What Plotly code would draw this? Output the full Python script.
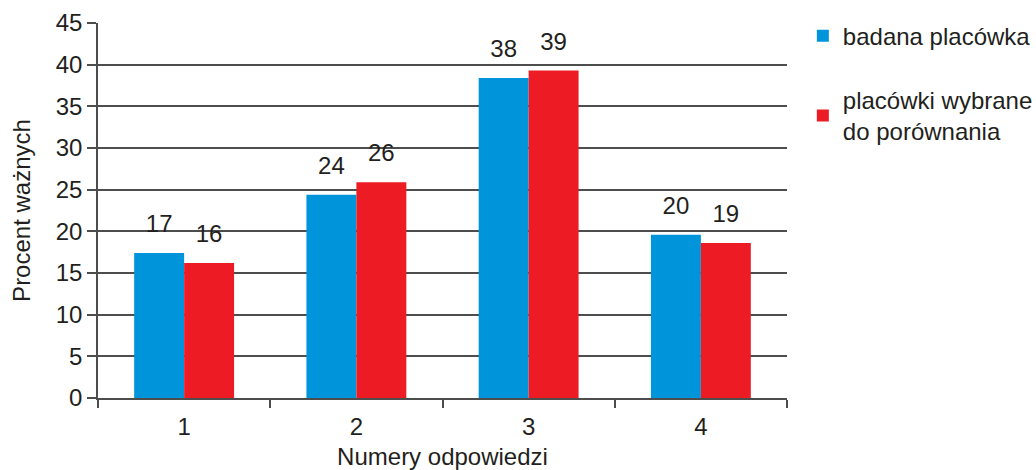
import plotly.graph_objects as go

# Response numbers and the share of valid answers (%) for each group
categories = ["1", "2", "3", "4"]
badana = [17.4, 24.4, 38.4, 19.6]
porownanie = [16.2, 25.9, 39.3, 18.6]
series_names = ["badana placówka", "placówki wybrane<br>do porównania"]
series_colors = ["#0095DA", "#ED1C24"]
y_ticks = [0, 5, 10, 15, 20, 25, 30, 35, 40, 45]

FONT = "Liberation Sans, Arial, sans-serif"
TEXT = "#231F20"
GRID = "#4d4d4d"
SIZE = 24

fig = go.Figure()
for i, (name, vals, color) in enumerate(zip(series_names, [badana, porownanie], series_colors)):
    fig.add_trace(go.Bar(
        x=categories, y=vals, name=name,
        marker=dict(color=color, line=dict(width=0)),
        offsetgroup=str(i), legendgroup=str(i),
    ))
    # value labels, grouped alongside the bars and lifted by an invisible marker
    fig.add_trace(go.Scatter(
        x=categories, y=vals, mode="text+markers",
        marker=dict(size=22, opacity=0),
        text=[f"{v:.0f}" for v in vals], textposition="top center",
        textfont=dict(size=SIZE, color=TEXT, family=FONT),
        offsetgroup=str(i), legendgroup=str(i),
        showlegend=False, hoverinfo="skip", cliponaxis=False,
    ))

fig.update_layout(
    width=1036, height=470,
    margin=dict(l=98, r=249, t=23, b=72, autoexpand=False),
    paper_bgcolor="white", plot_bgcolor="white",
    font=dict(family=FONT, size=SIZE, color=TEXT),
    barmode="group", bargap=0.42, bargroupgap=0,
    scattermode="group", scattergap=0.42,
    showlegend=True,
    legend=dict(
        x=1.023, y=1.025, xanchor="left", yanchor="top",
        font=dict(size=SIZE, color=TEXT, family=FONT),
        traceorder="grouped", tracegroupgap=30,
        bgcolor="rgba(0,0,0,0)", itemwidth=30,
    ),
)

fig.update_xaxes(
    type="category",
    title=dict(text="Numery odpowiedzi", standoff=14, font=dict(size=SIZE)),
    showline=True, linecolor=GRID, linewidth=1.5,
    ticks="outside", tickson="boundaries", ticklen=8, tickcolor=GRID, tickwidth=1.5,
    tickfont=dict(size=SIZE), ticklabelstandoff=6, showgrid=False,
)
fig.update_yaxes(
    range=[0, 45], tickvals=y_ticks,
    title=dict(text="Procent ważnych", standoff=18, font=dict(size=SIZE)),
    showline=True, linecolor=GRID, linewidth=1.5,
    ticks="outside", ticklen=9, tickcolor=GRID, tickwidth=1.5,
    showgrid=True, gridcolor=GRID, gridwidth=1.5,
    zeroline=False, tickfont=dict(size=SIZE),
)

fig.write_html("out.html")
